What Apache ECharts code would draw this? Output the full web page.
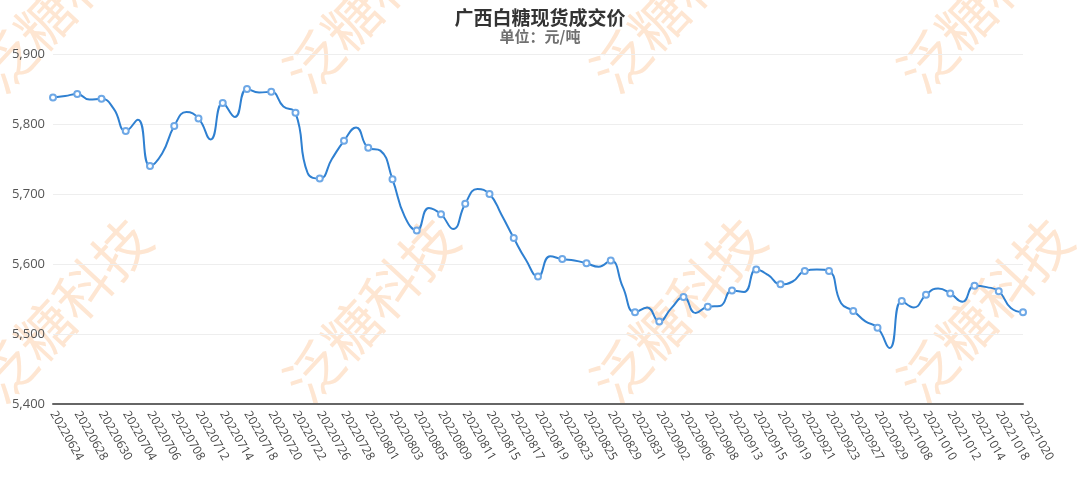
<!DOCTYPE html>
<html>
<head>
<meta charset="utf-8">
<script src="https://cdn.jsdelivr.net/npm/echarts@6/dist/echarts.min.js"></script>
<style>
html,body{margin:0;padding:0;background:#fff;}
#chart{width:1080px;height:487px;}
</style>
</head>
<body>
<div id="chart"></div>
<script>
var titleText = '广西白糖现货成交价';
var subtitleText = '单位：元/吨';
var watermarkText = '泛糖科技';

var dates = [
  '20220624','20220627','20220628','20220629','20220630','20220701','20220704','20220705','20220706','20220707',
  '20220708','20220711','20220712','20220713','20220714','20220715','20220718','20220719','20220720','20220721',
  '20220722','20220725','20220726','20220727','20220728','20220729','20220801','20220802','20220803','20220804',
  '20220805','20220808','20220809','20220810','20220811','20220812','20220815','20220816','20220817','20220818',
  '20220819','20220822','20220823','20220824','20220825','20220826','20220829','20220830','20220831','20220901',
  '20220902','20220905','20220906','20220907','20220908','20220909','20220913','20220914','20220915','20220916',
  '20220919','20220920','20220921','20220922','20220923','20220926','20220927','20220928','20220929','20220930',
  '20221008','20221009','20221010','20221011','20221012','20221013','20221014','20221017','20221018','20221019',
  '20221020'
];

var prices = [
  5838, 5840, 5843, 5835, 5836, 5822, 5790, 5806, 5740, 5758,
  5797, 5817, 5808, 5778, 5830, 5810, 5850, 5845, 5846, 5825,
  5816, 5730, 5722, 5750, 5776, 5795, 5766, 5762, 5721, 5668,
  5648, 5680, 5671, 5650, 5686, 5707, 5700, 5670, 5637, 5606,
  5582, 5611, 5607, 5605, 5601, 5596, 5605, 5567, 5531, 5538,
  5518, 5537, 5553, 5530, 5539, 5540, 5562, 5560, 5592, 5584,
  5571, 5575, 5590, 5592, 5590, 5544, 5533, 5518, 5509, 5480,
  5547, 5538, 5556, 5565, 5558, 5546, 5569, 5567, 5561, 5537,
  5531
];

var yMin = 5400, yMax = 5900, yInterval = 100;

var wmX = [8, 315, 622, 929];
var wmY = [101, 411];

var graphics = [];
wmY.forEach(function (y) {
  wmX.forEach(function (x) {
    graphics.push({
      type: 'text',
      x: x, y: y,
      rotation: 47 * Math.PI / 180,
      z: -10,
      silent: true,
      style: {
        text: watermarkText,
        fill: '#fee6d2',
        font: '56px "Noto Sans CJK SC", sans-serif',
        textAlign: 'left',
        textVerticalAlign: 'bottom'
      }
    });
  });
});

var chart = echarts.init(document.getElementById('chart'), null, {renderer: 'canvas'});
chart.setOption({
  backgroundColor: '#ffffff',
  animation: false,
  graphic: graphics,
  title: {
    text: titleText,
    subtext: subtitleText,
    left: 'center',
    top: 3,
    itemGap: 2,
    textStyle: {
      fontSize: 19, fontWeight: 'bold', color: '#333333',
      fontFamily: '"Noto Sans CJK SC", sans-serif'
    },
    subtextStyle: {
      fontSize: 15, fontWeight: 'bold', color: '#707070',
      fontFamily: '"Noto Sans CJK SC", sans-serif'
    }
  },
  grid: { left: 53, right: 57, top: 54, bottom: 83, containLabel: false },
  xAxis: {
    type: 'category',
    data: dates,
    boundaryGap: false,
    axisLine: { show: true, lineStyle: { color: '#666666', width: 2 } },
    axisTick: { show: false },
    axisLabel: {
      interval: 1,
      rotate: -60,
      color: '#444444',
      fontSize: 12,
      margin: 8,
      fontFamily: '"Open Sans", sans-serif'
    },
    splitLine: { show: false }
  },
  yAxis: {
    type: 'value',
    min: yMin, max: yMax, interval: yInterval,
    axisLine: { show: false },
    axisTick: { show: false },
    axisLabel: {
      color: '#555555', fontSize: 13, margin: 8,
      fontFamily: '"Open Sans", sans-serif',
      formatter: function (v) { return v.toLocaleString('en-US'); }
    },
    splitLine: { show: true, lineStyle: { color: '#eeeeee', width: 1 } }
  },
  series: [{
    type: 'line',
    data: prices,
    smooth: true,
    showAllSymbol: false,
    symbol: 'emptyCircle',
    symbolSize: 6,
    lineStyle: { color: '#2f80d1', width: 2 },
    itemStyle: { color: '#6ea8e6', borderWidth: 1.5 },
    z: 3
  }]
});
</script>
</body>
</html>
